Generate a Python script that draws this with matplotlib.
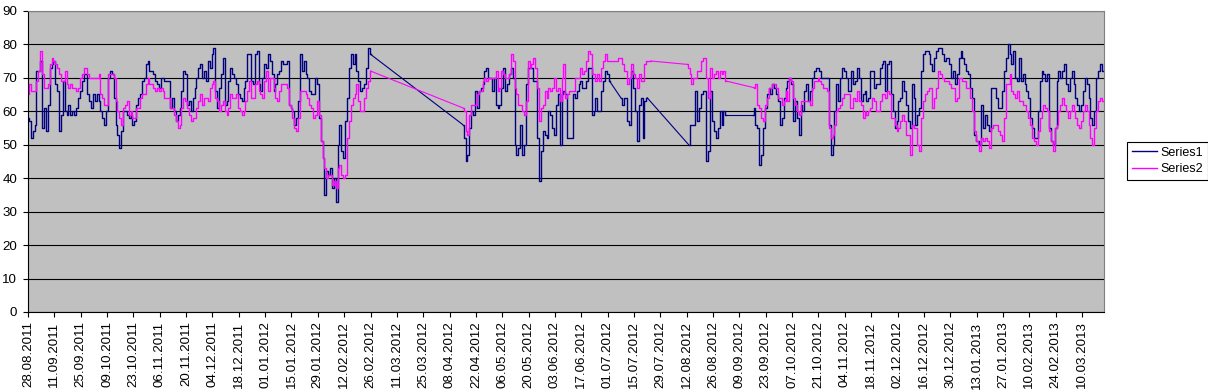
import matplotlib
matplotlib.use("Agg")
import matplotlib.pyplot as plt
import matplotlib.dates as mdates
from datetime import datetime, timedelta

start_date = datetime(2011, 8, 28)
tick_step_days = 14
n_ticks = 41

# Daily values from 28.08.2011; None = no data (line is joined across)
series1 = [
    58, 57, 52, 54, 56, 72, 72, 75, 55, 61,
    54, 62, 73, 74, 75, 68, 66, 54, 59, 69,
    60, 59, 62, 59, 60, 59, 61, 64, 66, 69,
    71, 71, 65, 63, 61, 65, 63, 65, 63, 60,
    58, 56, 60, 70, 72, 71, 64, 56, 53, 49,
    54, 60, 60, 59, 58, 59, 56, 57, 62, 64,
    65, 69, 70, 74, 75, 72, 72, 71, 69, 68,
    67, 70, 70, 69, 69, 69, 61, 64, 60, 57,
    59, 61, 66, 72, 71, 62, 63, 60, 64, 67,
    70, 73, 74, 70, 72, 69, 75, 73, 77, 79,
    66, 61, 67, 71, 76, 62, 63, 69, 73, 71,
    70, 68, 65, 64, 63, 67, 69, 77, 77, 69,
    68, 77, 78, 68, 66, 70, 74, 73, 77, 75,
    71, 66, 68, 71, 72, 75, 74, 74, 75, 62,
    61, 60, 56, 58, 63, 77, 72, 75, 71, 70,
    66, 65, 65, 70, 68, 58, 51, 46, 35, 42,
    41, 43, 37, 40, 33, 50, 56, 48, 46, 57,
    64, 73, 77, 74, 77, 72, 69, 66, 67, 68,
    73, 79, 77] + [None] * 48 + [
    56, 52, 45, 47, 55, 60, 59, 66, 61,
    66, 67, 68, 72, 73, 70, 70, 66, 70, 62,
    61, 62, 67, 73, 66, 68, 71, 73, 70, 50,
    47, 49, 56, 47, 50, 68, 73, 73, 73, 69,
    69, 52, 39, 48, 54, 53, 52, 60, 59, 55,
    53, 62, 65, 50, 65, 66, 65, 52, 52, 52,
    65, 64, 66, 68, 69, 67, 67, 69, 73, 73,
    59, 60, 64, 60, 60, 66, 69, 72, 71, 69] + [None] * 5 + [
    64, 62, 64, 64, 57,
    56, 72, 67, 60, 51, 62, 64, 52, 63, 64] + [None] * 21 + [
    50, 56, 56, 56, 66, 57, 61, 65, 66,
    66, 45, 48, 66, 57, 54, 52, 55, 60, 56,
    60, 59] + [None] * 13 + [
    59, 61, 56, 55, 44,
    47, 55, 61, 65, 67, 65, 68, 67, 65, 63,
    56, 58, 64, 67, 69, 70, 68, 57, 63, 58,
    53, 62, 60, 66, 68, 63, 66, 70, 72, 73,
    73, 72, 70, 70, 70, 70, 56, 47, 50, 60,
    68, 63, 70, 73, 72, 70, 66, 66, 72, 68,
    69, 73, 70, 63, 65, 66, 63, 64, 72, 72,
    67, 68, 68, 73, 74, 75, 66, 74, 75, 65,
    60, 55, 57, 63, 64, 69, 66, 62, 57, 55,
    68, 64, 56, 59, 61, 72, 77, 78, 78, 77,
    74, 72, 76, 78, 79, 79, 77, 75, 76, 76,
    74, 70, 72, 68, 71, 76, 78, 76, 74, 72,
    71, 67, 64, 53, 51, 51, 50, 62, 55, 59,
    56, 54, 67, 67, 67, 64, 61, 61, 66, 72,
    76, 80, 77, 74, 78, 70, 69, 76, 69, 71,
    68, 66, 64, 58, 55, 52, 52, 60, 69, 72,
    71, 69, 71, 55, 51, 50, 55, 69, 72,
    70, 72, 74, 68, 66, 70, 72, 68, 64, 62, 60, 62,
    66, 70, 68, 64, 58, 56, 60, 70, 72, 74, 72]

series2 = [
    65, 68, 66, 66, 66, 69, 72, 78, 71, 67,
    67, 68, 74, 76, 75, 74, 73, 71, 69, 69,
    72, 68, 67, 68, 67, 67, 66, 67, 70, 71,
    73, 73, 71, 70, 70, 70, 70, 70, 71, 65,
    64, 62, 62, 71, 71, 71, 70, 63, 60, 58,
    56, 61, 62, 63, 59, 60, 58, 58, 61, 61,
    64, 65, 65, 68, 70, 68, 68, 67, 66, 67,
    66, 67, 66, 64, 64, 64, 61, 61, 59, 57,
    55, 56, 61, 64, 63, 61, 59, 57, 58, 58,
    61, 63, 65, 62, 64, 64, 63, 67, 68, 69,
    64, 63, 60, 62, 63, 60, 59, 61, 65, 64,
    64, 65, 61, 60, 59, 60, 63, 66, 69, 64,
    64, 68, 69, 66, 65, 64, 69, 72, 66, 70,
    70, 67, 64, 63, 66, 68, 68, 68, 67, 62,
    61, 58, 55, 54, 58, 66, 66, 66, 65, 64,
    62, 61, 58, 59, 63, 59, 51, 46, 43, 40,
    41, 41, 38, 39, 37, 43, 44, 41, 40, 41,
    52, 57, 62, 64, 65, 68, 63, 60, 60, 64,
    67, 69, 72] + [None] * 48 + [
    61, 60, 54, 53, 59, 62, 62, 62, 65,
    66, 66, 69, 70, 69, 70, 70, 70, 70, 72,
    66, 67, 72, 71, 70, 70, 71, 77, 75, 67,
    65, 62, 62, 60, 59, 63, 75, 73, 74, 76,
    73, 67, 57, 61, 62, 66, 64, 67, 66, 67,
    70, 66, 67, 63, 70, 74, 64, 65, 66, 66,
    66, 70, 70, 70, 73, 71, 72, 75, 78, 77,
    71, 71, 69, 71, 69, 73, 75, 77, 75, 75,
    75, 75, 75, 75, 76, 76, 74, 72, 72, 68,
    70, 74, 71, 70, 67, 71, 69, 69, 74, 75,
    75, 75] + [None] * 18 + [
    74, 73, 71, 68, 70, 70, 72, 72, 75, 76,
    76, 70, 64, 73, 70, 71, 72, 70, 72, 71,
    72, 69] + [None] * 14 + [
    67, 68, 62, 61,
    58, 57, 62, 64, 67, 67, 68, 68, 67, 64,
    64, 62, 63, 66, 63, 70, 69, 64, 62, 60,
    59, 63, 63, 63, 63, 63, 62, 67, 69, 69,
    70, 69, 68, 67, 67, 66, 55, 52, 53, 56,
    60, 61, 62, 64, 65, 65, 65, 61, 61, 64,
    63, 66, 63, 62, 58, 60, 59, 60, 61, 64,
    63, 60, 60, 63, 65, 65, 64, 66, 65, 58,
    58, 56, 54, 55, 57, 59, 57, 53, 53, 47,
    56, 55, 55, 50, 48, 58, 63, 65, 66, 67,
    67, 61, 64, 67, 72, 71, 70, 69, 69, 69,
    68, 67, 67, 63, 64, 70, 70, 69, 69, 67,
    67, 64, 60, 54, 51, 50, 48, 52, 51, 52,
    51, 49, 55, 56, 56, 56, 54, 53, 51, 58,
    68, 68, 71, 66, 65, 64, 66, 63, 63, 62,
    62, 60, 58, 56, 52, 51, 50, 54, 58, 60,
    62, 61, 60, 54, 51, 48, 55, 56, 60,
    62, 64, 62, 60, 58, 60, 62, 60, 58, 56, 55, 57,
    60, 62, 60, 56, 52, 50, 55, 60, 63, 64, 63]

series_names = ["Series1", "Series2"]
series_colors = ["#000080", "#FF00FF"]

assert len(series1) == 572, len(series1)
assert len(series2) == 572, len(series2)


def runs_of(vals):
    """Split daily values into contiguous runs of (dates, values)."""
    runs, cur_x, cur_y = [], [], []
    for i, v in enumerate(vals):
        if v is None:
            if cur_x:
                runs.append((cur_x, cur_y))
                cur_x, cur_y = [], []
            continue
        cur_x.append(start_date + timedelta(days=i))
        cur_y.append(v)
    if cur_x:
        runs.append((cur_x, cur_y))
    return runs


fig = plt.figure(figsize=(12.08, 3.91), dpi=100)
fig.patch.set_facecolor("white")
ax = fig.add_axes([28 / 1208, 1 - 312 / 391, (1104 - 28) / 1208, (312 - 10.8) / 391])
ax.set_facecolor("#C0C0C0")

for vals, name, col in zip([series1, series2], series_names, series_colors):
    runs = runs_of(vals)
    for k, (xs, ys) in enumerate(runs):
        ax.plot(xs, ys, color=col, lw=1.0, drawstyle="steps-mid",
                label=name if k == 0 else None)
        if k + 1 < len(runs):
            nx, ny = runs[k + 1]
            ax.plot([xs[-1], nx[0]], [ys[-1], ny[0]], color=col, lw=0.8)

ax.set_ylim(0, 90)
ax.set_yticks(range(0, 91, 10))
ax.yaxis.grid(True, color="black", lw=0.8)
ax.set_axisbelow(True)

ax.set_xlim(start_date, start_date + timedelta(days=571.7))
ticks = [start_date + timedelta(days=tick_step_days * k) for k in range(n_ticks)]
ax.set_xticks(ticks)
ax.xaxis.set_major_formatter(mdates.DateFormatter("%d.%m.%Y"))

for lab in ax.get_xticklabels():
    lab.set_rotation(90)
ax.tick_params(axis="both", direction="out", length=3.6, width=0.8, color="black",
               labelsize=9.6)
ax.tick_params(axis="y", pad=4.2)
ax.tick_params(axis="x", pad=3.2)
for lab in ax.get_xticklabels() + ax.get_yticklabels():
    lab.set_fontfamily("Liberation Sans")

for s in ["top", "right"]:
    ax.spines[s].set_color("#808080")
    ax.spines[s].set_linewidth(0.8)
for s in ["left", "bottom"]:
    ax.spines[s].set_color("black")
    ax.spines[s].set_linewidth(0.8)

leg = fig.legend(loc="center left", bbox_to_anchor=(1127 / 1208, 1 - 161 / 391),
                 frameon=True, fancybox=False, edgecolor="black", framealpha=1,
                 prop={"family": "Liberation Sans", "size": 9},
                 handlelength=2.0, handletextpad=0.3, borderpad=0.4,
                 labelspacing=0.35, borderaxespad=0)
leg.get_frame().set_linewidth(0.8)

fig.savefig("out.png", dpi=100, facecolor="white")
